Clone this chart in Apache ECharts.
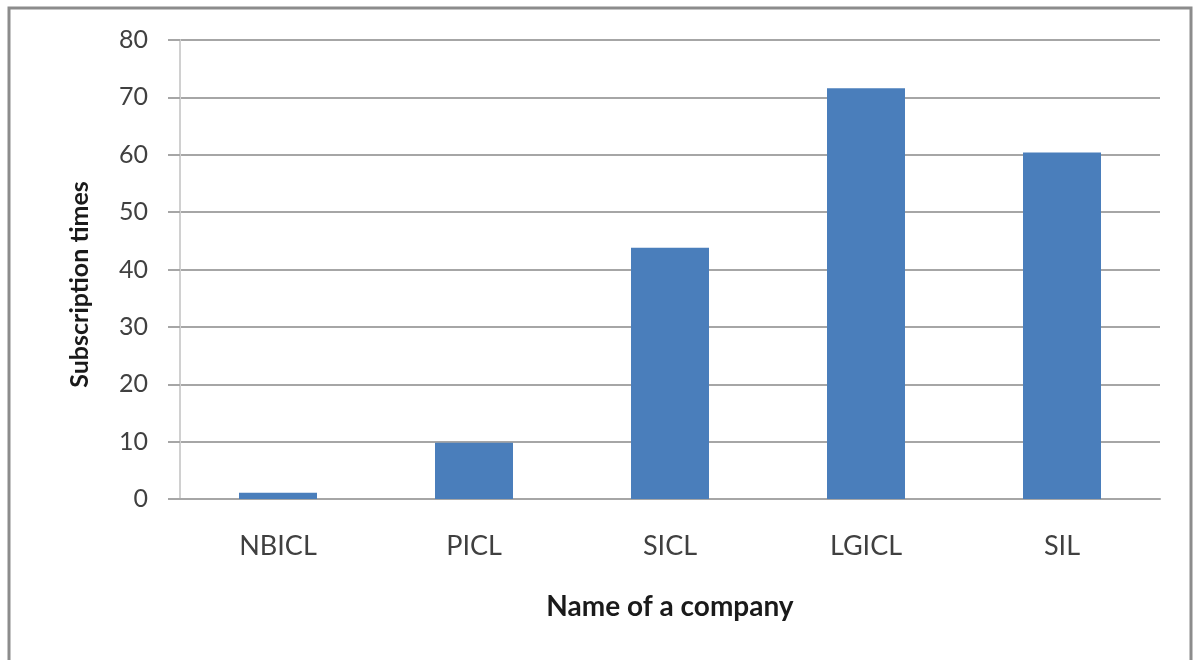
<!DOCTYPE html>
<html>
<head>
<meta charset="utf-8">
<script src="https://cdn.jsdelivr.net/npm/echarts@6/dist/echarts.min.js"></script>
<style>
html,body{margin:0;padding:0;background:#ffffff;}
#chart{width:1195px;height:660px;}
</style>
</head>
<body>
<div id="chart"></div>
<script>
const categories = ["NBICL", "PICL", "SICL", "LGICL", "SIL"];
const subscriptionTimes = [1.1, 9.8, 43.8, 71.6, 60.4];
const yTicks = [0, 10, 20, 30, 40, 50, 60, 70, 80];

const chart = echarts.init(document.getElementById('chart'));
const font = 'Lato, "Open Sans", sans-serif';
chart.setOption({
  animation: false,
  backgroundColor: '#ffffff',
  graphic: [{
    type: 'rect',
    shape: {x: 9, y: 8, width: 1182, height: 700},
    style: {fill: 'none', stroke: '#8c8c8c', lineWidth: 3},
    silent: true
  }],
  grid: {left: 180, right: 35, top: 40, bottom: 161, containLabel: false},
  xAxis: {
    type: 'category',
    data: categories,
    name: 'Name of a company',
    nameLocation: 'middle',
    nameGap: 94,
    nameTextStyle: {fontFamily: font, fontSize: 28, fontWeight: 'bold', color: '#1a1a1a'},
    axisLine: {show: true, lineStyle: {color: '#a6a6a6', width: 2}},
    axisTick: {show: false},
    axisLabel: {fontFamily: font, fontSize: 27, color: '#404040', margin: 34}
  },
  yAxis: {
    type: 'value',
    min: 0, max: 80, interval: 10,
    name: 'Subscription times',
    nameLocation: 'middle',
    nameGap: 88,
    nameTextStyle: {fontFamily: font, fontSize: 25, fontWeight: 'bold', color: '#1a1a1a', padding: [0, 30, 0, 0]},
    axisLine: {show: true, lineStyle: {color: '#d0d0d0', width: 2}},
    axisTick: {show: true, length: 12, lineStyle: {color: '#a6a6a6', width: 2}},
    axisLabel: {fontFamily: font, fontSize: 25, color: '#404040', margin: 32,
      formatter: function(v){ return yTicks.indexOf(v) >= 0 ? String(v) : ''; }},
    splitLine: {show: true, lineStyle: {color: '#a6a6a6', width: 2}}
  },
  series: [{
    type: 'bar',
    data: subscriptionTimes,
    barWidth: 78,
    itemStyle: {color: '#4a7ebb'}
  }]
});
</script>
</body>
</html>
